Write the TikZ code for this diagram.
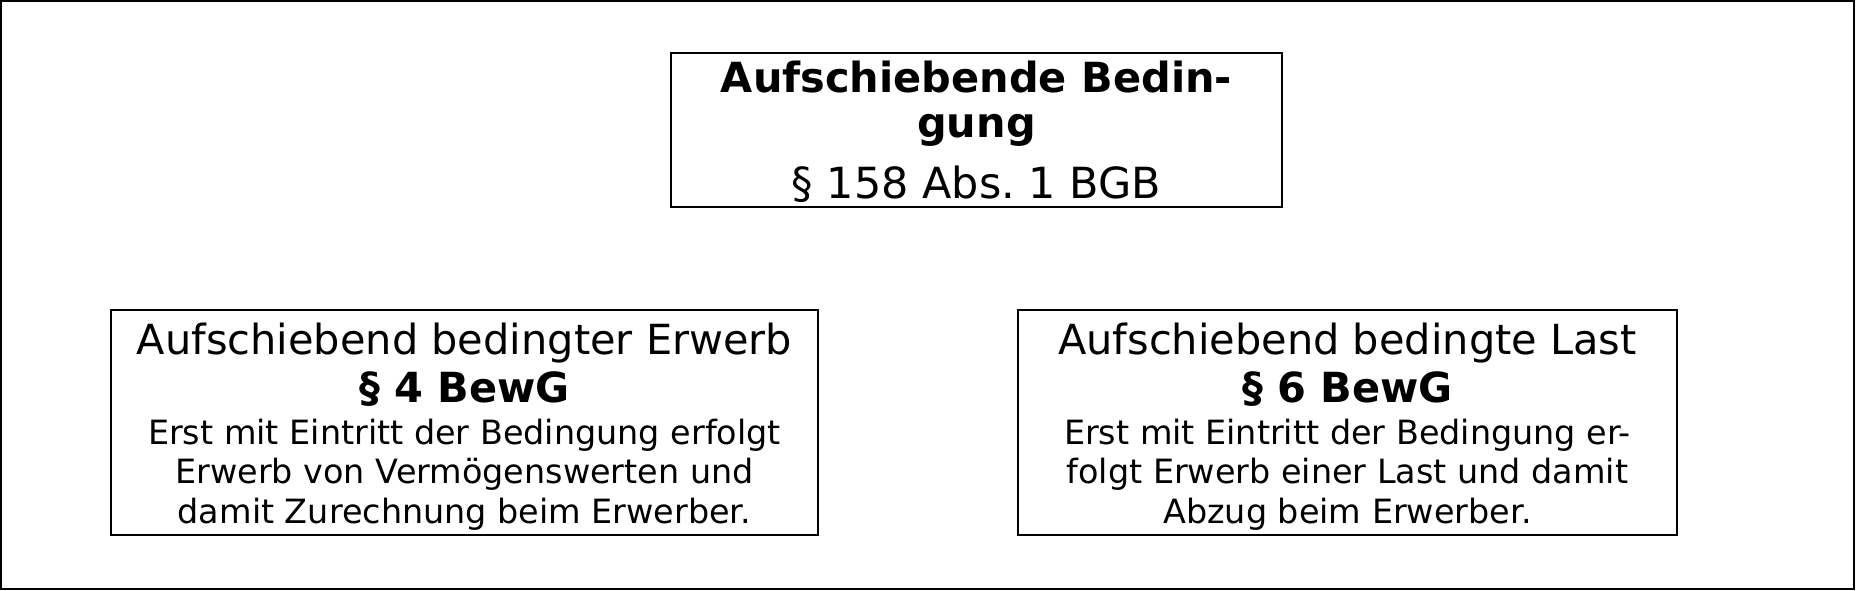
\documentclass[tikz,border=0pt]{standalone}
\usepackage{fontspec}
\setmainfont{DejaVu Sans}
\usetikzlibrary{positioning}
\newcommand{\hdr}{\fontsize{11.8}{14.2}\selectfont}
\newcommand{\txt}{\fontsize{9.5}{11.2}\selectfont}
\tikzset{
  box/.style={draw, line width=0.6pt, align=center, inner sep=0pt,
    font={\txt\lineskiplimit=-\maxdimen}},
  topbox/.style={box, minimum width=6.11cm, minimum height=1.54cm},
  subbox/.style={box, minimum height=2.25cm},
}

\begin{document}
\begin{tikzpicture}[x=0.01cm,y=-0.01cm]
\useasboundingbox (0,0) rectangle (1856,590);
\draw[line width=0.6pt] (1,1) rectangle (1854,589);
% oben
\node[topbox] (bedingung) at (976.5,130) {\hdr\bfseries\rule{0pt}{10pt}Aufschiebende Bedin-\\[1.6pt]\hdr\bfseries gung\\[5.9pt]\fontsize{12.2}{14}\selectfont § 158 Abs.~1 BGB};
% unten links und rechts
\node[subbox, minimum width=7.07cm] (erwerb) at (464.5,422.5) {\hdr\rule{0pt}{11.2pt}Aufschiebend bedingter Erwerb\\[2.6pt]\hdr\bfseries § 4 BewG\\[0.7pt]\txt Erst mit Eintritt der Bedingung erfolgt\\\txt Erwerb von Vermögenswerten und\\\txt damit Zurechnung beim Erwerber.};
\node[subbox, minimum width=6.59cm] (last) at (1347.5,422.5) {\hdr\rule{0pt}{11.2pt}Aufschiebend bedingte Last\\[2.6pt]\hdr\bfseries § 6 BewG\\[0.7pt]\txt Erst mit Eintritt der Bedingung er-\\\txt folgt Erwerb einer Last und damit\\\txt Abzug beim Erwerber.};
\end{tikzpicture}
\end{document}
